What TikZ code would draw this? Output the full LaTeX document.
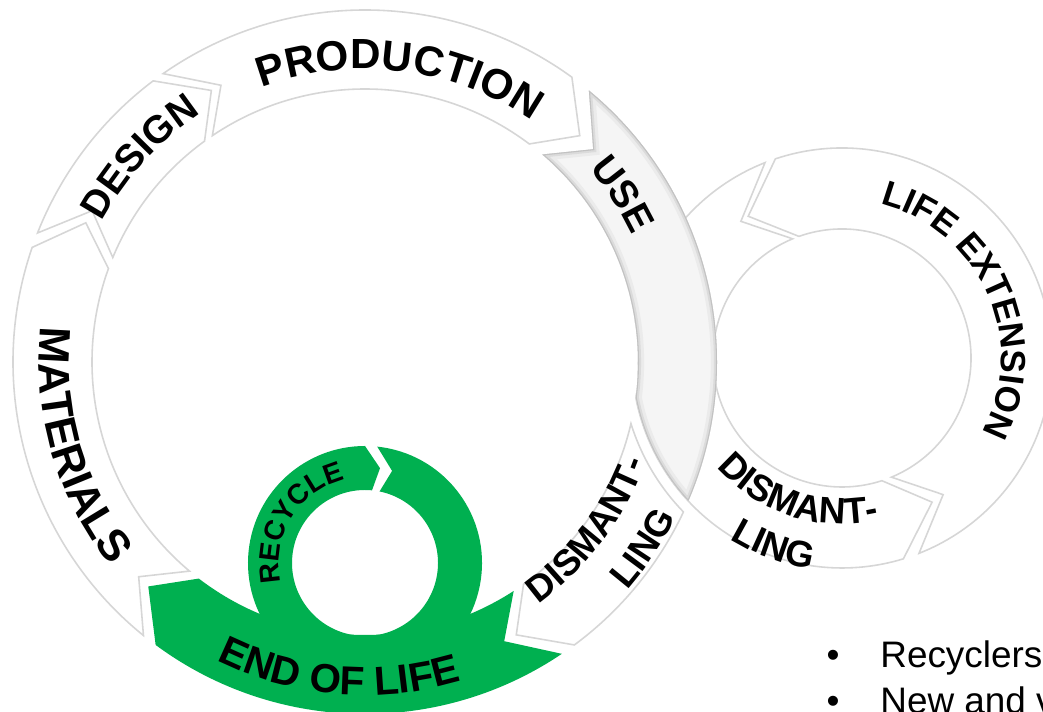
\documentclass[tikz,border=0pt]{standalone}
\usepackage{fontspec}
\setmainfont{Liberation Sans}
\usetikzlibrary{decorations.text}

\definecolor{eolgreen}{RGB}{0,176,80}
\definecolor{rimgray}{RGB}{214,214,214}

\newcommand{\lbl}[1]{\bfseries\fontsize{#1}{#1}\selectfont}

% big loop part: tail angle, head angle (clockwise)
\newcommand{\bigpart}[2]{(#1:352) arc[start angle=#1, end angle=#2, radius=352]
  -- ({#2-7.5}:312) -- ({#2-1}:273) arc[start angle={#2-1}, end angle={#1-1}, radius=273]
  -- ({#1-7.5}:312) -- cycle}
% small loop part: tail angle, head angle (counter-clockwise)
\newcommand{\smallpart}[2]{(#1:210) arc[start angle=#1, end angle=#2, radius=210]
  -- ({#2+15}:170) -- ({#2+1}:129) arc[start angle={#2+1}, end angle={#1+1}, radius=129]
  -- ({#1+15}:170) -- cycle}
% use part, cut by the small loop
\newcommand{\usepart}{(50.5:352) arc[start angle=50.5, end angle=-23.29, radius=352]
  arc[start angle=222.97, end angle=190.79, radius=210]
  arc[start angle=-7.42, end angle=49.5, radius=273] -- (43:312) -- cycle}

\begin{document}
\begin{tikzpicture}[x=0.02cm, y=0.02cm,
    part/.style={fill=white, draw=rimgray, line width=0.9pt},
    arctext/.style={decorate, decoration={text along path, text={#1}, text align=center}},
    bullettext/.style={font=\fontsize{21}{25}\selectfont, inner sep=0pt}]
  \useasboundingbox (0,0) rectangle (1043,712);
  \clip (0,0) rectangle (1043,712);

  % small loop
  \begin{scope}[shift={(842,354)}]
    \draw[part] \smallpart{111.5}{180};
    \draw[part] \smallpart{182.5}{287};
    \draw[part] \smallpart{291.5}{468.5};
    \path[arctext={|\lbl{20}|LIFE EXTENSION}] (104:159) arc[start angle=104, end angle=-56, radius=159];
    \path[arctext={|\lbl{21}|DISMANT-}] (-150:166) arc[start angle=-150, end angle=-66, radius=166];
    \path[arctext={|\lbl{21}|LING}] (-140:213) arc[start angle=-140, end angle=-80, radius=213];
  \end{scope}

  % big loop
  \begin{scope}[shift={(365,350)}]
    \fill[white] (0,0) circle[radius=272.5];
    \draw[part] \bigpart{231}{161};
    \draw[part] \bigpart{158.5}{127};
    \draw[part] \bigpart{125}{54};
    \draw[part] (-25.22:352) arc[start angle=-25.22, end angle=-53.5, radius=352]
      -- (-61:312) -- (-54.5:273) arc[start angle=-54.5, end angle=-13.04, radius=273]
      arc[start angle=197.28, end angle=224.16, radius=221] -- cycle;
    \fill[eolgreen] \bigpart{-56}{-126.5};
  \end{scope}

  % recycle loop
  \begin{scope}[shift={(365,149)}]
    \fill[eolgreen] (84:117) arc[start angle=84, end angle=-270, radius=117]
      -- (-279:96) -- (-275.5:73) arc[start angle=-275.5, end angle=78.5, radius=73]
      -- (73.6:96) -- cycle;
    \path[arctext={|\lbl{16}|RECYCLE}] (208.3:86) arc[start angle=208.3, end angle=88.3, radius=86];
  \end{scope}

  \begin{scope}[shift={(365,350)}]
    % use part on top
    \fill[black!4] \usepart;
    \begin{scope}
      \clip \usepart;
      \draw[black!8, line width=7pt] \usepart;
      \draw[black!14, line width=3.5pt] \usepart;
      \draw[black!24, line width=1.2pt] \usepart;
    \end{scope}
    \path[arctext={|\lbl{24}|PRODUCTION}] (123:293) arc[start angle=123, end angle=43, radius=293];
    \path[arctext={|\lbl{22}|DESIGN}] (167.6:298) arc[start angle=167.6, end angle=107.6, radius=298];
    \path[arctext={|\lbl{25}|MATERIALS}] (166.3:326) arc[start angle=166.3, end angle=226.3, radius=326];
    \path[arctext={|\lbl{23}|END OF LIFE}] (-124.8:333) arc[start angle=-124.8, end angle=-64.8, radius=333];
    \path[arctext={|\lbl{21}|DISMANT-}] (-67:298) arc[start angle=-67, end angle=-7, radius=298];
    \path[arctext={|\lbl{21}|LING}] (-58.8:348) arc[start angle=-58.8, end angle=-8.8, radius=348];
    \path[arctext={|\lbl{22}|USE}] (58:296) arc[start angle=58, end angle=8, radius=296];
  \end{scope}

  % notes
  \node[bullettext, anchor=base] (dotrec) at (833,44) {\textbullet};
  \node[bullettext, anchor=base west] (recyclers) at (880,44) {Recyclers};
  \node[bullettext, anchor=base] (dotnew) at (833,-1.5) {\textbullet};
  \node[bullettext, anchor=base west] (newand) at (880,-1.5) {New and v};
\end{tikzpicture}
\end{document}
